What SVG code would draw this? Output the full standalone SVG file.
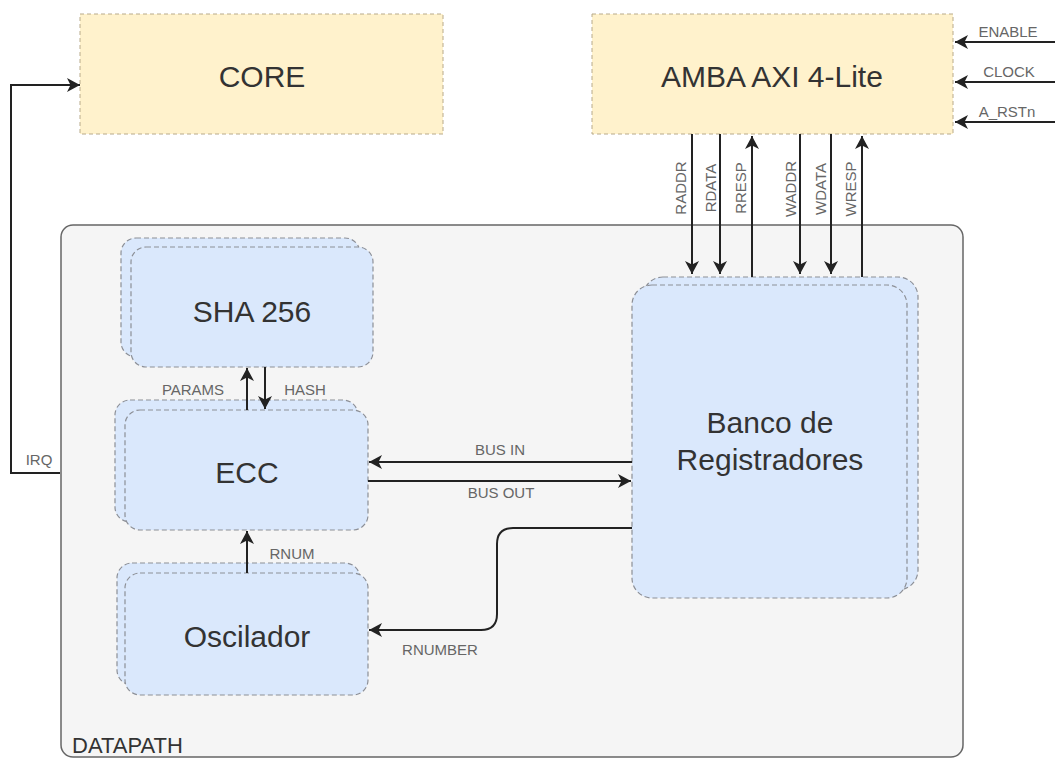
<svg xmlns="http://www.w3.org/2000/svg" width="1055" height="758" viewBox="0 0 1055 758">
<style>
.yel{fill:#fff2cc;stroke:#b8aa8a;stroke-width:1;stroke-dasharray:4 3}
.blu{fill:#dae8fc;stroke:#8c8f96;stroke-width:1.2;stroke-dasharray:5 3}
.big{font-family:"Liberation Sans",Arial,sans-serif;font-size:30px;fill:#333;text-anchor:middle}
.sm{font-family:"Liberation Sans",Arial,sans-serif;font-size:15px;fill:#666;text-anchor:middle}
.wire{fill:none;stroke:#222;stroke-width:2}
</style>
<defs>
<marker id="arr" markerUnits="userSpaceOnUse" markerWidth="15" markerHeight="14" refX="13" refY="7" orient="auto">
<path d="M0,0 L13,7 L0,14 L3.5,7 z" fill="#222"/>
</marker>
</defs>
<rect width="1055" height="758" fill="#fff"/>
<g id="datapath">
<rect x="61" y="225" width="902" height="532" rx="12" fill="#f5f5f5" stroke="#666" stroke-width="1.5"/>
<text x="72" y="753" font-family="Liberation Sans,Arial,sans-serif" font-size="22" fill="#333">DATAPATH</text>
</g>
<g id="core">
<rect class="yel" x="80" y="14" width="363" height="120"/>
<text class="big" x="262" y="87">CORE</text>
</g>
<g id="amba">
<rect class="yel" x="592" y="14" width="361" height="120"/>
<text class="big" x="772" y="87">AMBA AXI 4-Lite</text>
</g>
<g id="sha256">
<rect class="blu" x="121" y="238" width="239" height="119" rx="15"/>
<rect class="blu" x="131" y="247" width="242" height="120" rx="15"/>
<text class="big" x="252" y="322">SHA 256</text>
</g>
<g id="ecc">
<rect class="blu" x="115" y="400" width="243" height="122" rx="15"/>
<rect class="blu" x="125" y="410" width="243" height="120" rx="15"/>
<text class="big" x="247" y="483">ECC</text>
</g>
<g id="oscilador">
<rect class="blu" x="117" y="563" width="243" height="122" rx="15"/>
<rect class="blu" x="125" y="573" width="243" height="122" rx="15"/>
<text class="big" x="247" y="647">Oscilador</text>
</g>
<g id="banco">
<rect class="blu" x="643" y="277" width="275" height="313" rx="20"/>
<rect class="blu" x="632" y="285" width="275" height="313" rx="20"/>
<text class="big" x="770" y="433">Banco de</text>
<text class="big" x="770" y="470">Registradores</text>
</g>
<g id="connectors">
<path class="wire" d="M60,473 H11 V85 H80" marker-end="url(#arr)"/>
<path class="wire" d="M1055,42 H955" marker-end="url(#arr)"/>
<path class="wire" d="M1055,82 H955" marker-end="url(#arr)"/>
<path class="wire" d="M1055,122 H955" marker-end="url(#arr)"/>
<path class="wire" d="M692,134 V274" marker-end="url(#arr)"/>
<path class="wire" d="M720,134 V274" marker-end="url(#arr)"/>
<path class="wire" d="M752,277 V136" marker-end="url(#arr)"/>
<path class="wire" d="M800,134 V274" marker-end="url(#arr)"/>
<path class="wire" d="M831,134 V274" marker-end="url(#arr)"/>
<path class="wire" d="M862,277 V136" marker-end="url(#arr)"/>
<path class="wire" d="M247,410 V368" marker-end="url(#arr)"/>
<path class="wire" d="M265,367 V409" marker-end="url(#arr)"/>
<path class="wire" d="M247,573 V531" marker-end="url(#arr)"/>
<path class="wire" d="M632,462 H369" marker-end="url(#arr)"/>
<path class="wire" d="M368,481 H631" marker-end="url(#arr)"/>
<path class="wire" d="M632,528 H513 Q497,528 497,544 V614 Q497,630 481,630 H369" marker-end="url(#arr)"/>
<text class="sm" x="39" y="465">IRQ</text>
<text class="sm" x="1008" y="37">ENABLE</text>
<text class="sm" x="1009" y="77">CLOCK</text>
<text class="sm" x="1007" y="117">A_RSTn</text>
<text class="sm" transform="translate(686,188) rotate(-90)">RADDR</text>
<text class="sm" transform="translate(716,188) rotate(-90)">RDATA</text>
<text class="sm" transform="translate(746,188) rotate(-90)">RRESP</text>
<text class="sm" transform="translate(796,189) rotate(-90)">WADDR</text>
<text class="sm" transform="translate(826,189) rotate(-90)">WDATA</text>
<text class="sm" transform="translate(856,189) rotate(-90)">WRESP</text>
<text class="sm" x="193" y="395">PARAMS</text>
<text class="sm" x="305" y="395">HASH</text>
<text class="sm" x="292" y="559">RNUM</text>
<text class="sm" x="500" y="455">BUS IN</text>
<text class="sm" x="501" y="498">BUS OUT</text>
<text class="sm" x="440" y="655">RNUMBER</text>
</g>
</svg>
